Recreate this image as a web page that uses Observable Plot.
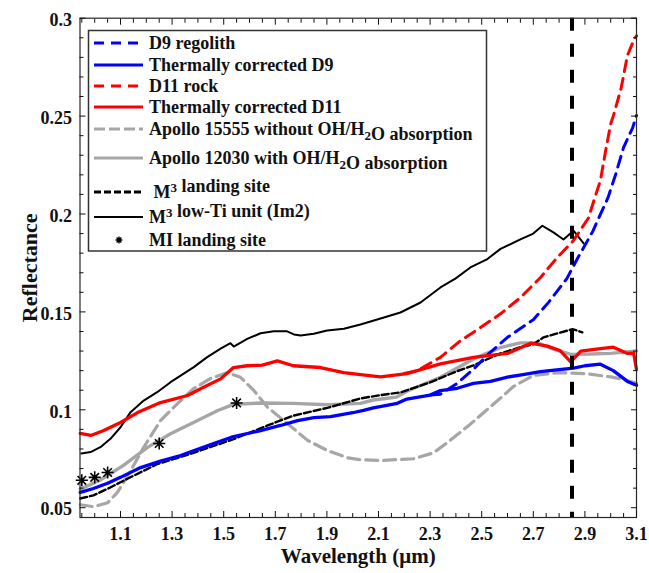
<!DOCTYPE html>
<html><head><meta charset="utf-8">
<script src="https://cdn.jsdelivr.net/npm/d3@7"></script>
<script src="https://cdn.jsdelivr.net/npm/@observablehq/plot@0.6"></script>
<style>
body{margin:0;background:#fff;}
#wrap{position:relative;width:649px;height:573px;}
#wrap svg{font-family:"Liberation Serif","Times New Roman",serif;}
#legend{position:absolute;left:0;top:0;pointer-events:none;}
</style></head><body><div id="wrap"></div>
<script>
// ---- data: [wavelength (µm), reflectance] ----
const d9Regolith = [[2.30,0.1075],[2.34,0.108],[2.40,0.113],[2.47,0.121],[2.53,0.129],[2.60,0.137],[2.70,0.146],[2.76,0.155],[2.83,0.167],[2.87,0.177],[2.93,0.191],[2.99,0.2085],[3.02,0.2206],[3.05,0.234],[3.085,0.244],[3.10,0.2503]];
const thermD9 = [[0.944,0.0578],[0.995,0.0598],[1.05,0.0625],[1.10,0.0655],[1.178,0.0705],[1.255,0.0738],[1.333,0.0766],[1.383,0.0791],[1.45,0.0822],[1.53,0.086],[1.643,0.0894],[1.72,0.092],[1.786,0.0945],[1.85,0.096],[1.914,0.0965],[2.0,0.0985],[2.042,0.0997],[2.08,0.101],[2.173,0.1033],[2.21,0.1055],[2.30,0.1075],[2.34,0.1098],[2.405,0.111],[2.468,0.1135],[2.534,0.1145],[2.60,0.1167],[2.66,0.118],[2.728,0.1195],[2.80,0.1205],[2.856,0.1213],[2.90,0.1225],[2.96,0.1233],[3.01,0.120],[3.065,0.1145],[3.10,0.1125]];
const d11Rock = [[2.20,0.1185],[2.25,0.120],[2.34,0.1268],[2.418,0.1353],[2.495,0.142],[2.573,0.149],[2.65,0.1573],[2.728,0.1676],[2.793,0.1778],[2.856,0.1865],[2.914,0.198],[2.94,0.209],[2.96,0.217],[2.98,0.232],[3.00,0.246],[3.01,0.25],[3.04,0.264],[3.065,0.281],[3.09,0.289],[3.10,0.291]];
const thermD11 = [[0.944,0.088],[0.985,0.0869],[1.035,0.0894],[1.10,0.0935],[1.166,0.0986],[1.255,0.1037],[1.36,0.1073],[1.42,0.1114],[1.488,0.1158],[1.538,0.1216],[1.591,0.1225],[1.65,0.1228],[1.708,0.125],[1.77,0.1225],[1.875,0.1216],[1.965,0.119],[2.03,0.118],[2.108,0.1168],[2.21,0.1185],[2.34,0.1235],[2.468,0.1268],[2.60,0.1288],[2.69,0.134],[2.755,0.1325],[2.803,0.1303],[2.845,0.1245],[2.884,0.130],[2.96,0.1313],[3.01,0.132],[3.065,0.1288],[3.089,0.129],[3.10,0.1205]];
const apollo15555 = [[0.944,0.0515],[0.995,0.0505],[1.05,0.0525],[1.088,0.0578],[1.139,0.0688],[1.19,0.0808],[1.255,0.0945],[1.32,0.103],[1.383,0.1108],[1.449,0.116],[1.515,0.119],[1.565,0.1166],[1.616,0.110],[1.67,0.1013],[1.747,0.093],[1.825,0.0844],[1.902,0.0792],[1.98,0.0755],[2.03,0.0745],[2.108,0.0741],[2.236,0.075],[2.313,0.078],[2.378,0.0844],[2.45,0.092],[2.507,0.0985],[2.573,0.106],[2.624,0.112],[2.70,0.1175],[2.80,0.119],[2.90,0.1185],[3.00,0.1168],[3.05,0.1155],[3.10,0.1135]];
const apollo12030 = [[0.944,0.0595],[1.02,0.064],[1.11,0.0715],[1.205,0.0808],[1.294,0.0878],[1.383,0.0935],[1.475,0.0995],[1.538,0.1028],[1.643,0.1035],[1.77,0.1033],[1.902,0.1026],[2.03,0.1033],[2.08,0.105],[2.17,0.1065],[2.21,0.1095],[2.34,0.1166],[2.468,0.126],[2.573,0.1318],[2.65,0.1342],[2.716,0.1342],[2.778,0.131],[2.845,0.1283],[2.92,0.1285],[3.00,0.1288],[3.10,0.130]];
const m3Landing = [[0.944,0.0547],[0.995,0.0563],[1.06,0.0603],[1.127,0.0648],[1.243,0.0723],[1.383,0.078],[1.538,0.085],[1.67,0.092],[1.77,0.097],[1.902,0.101],[2.03,0.1058],[2.108,0.1075],[2.185,0.1089],[2.30,0.114],[2.40,0.1195],[2.468,0.1227],[2.573,0.1288],[2.65,0.132],[2.70,0.1335],[2.74,0.137],[2.793,0.139],[2.852,0.1412],[2.89,0.1396]];
const m3LowTi = [[0.948,0.0777],[0.984,0.0784],[1.022,0.0809],[1.061,0.0852],[1.10,0.0911],[1.139,0.0988],[1.19,0.1047],[1.242,0.109],[1.294,0.1141],[1.333,0.1175],[1.384,0.1218],[1.436,0.1269],[1.488,0.1312],[1.526,0.134],[1.539,0.1323],[1.591,0.1362],[1.643,0.1391],[1.694,0.1401],[1.746,0.1401],[1.772,0.1385],[1.798,0.138],[1.849,0.1388],[1.901,0.1405],[1.966,0.1414],[2.03,0.1436],[2.108,0.1466],[2.185,0.1497],[2.263,0.1548],[2.34,0.1625],[2.398,0.167],[2.456,0.1727],[2.522,0.177],[2.573,0.1822],[2.65,0.187],[2.70,0.19],[2.735,0.194],[2.778,0.1906],[2.817,0.187],[2.856,0.1915],[2.895,0.185]];
const miLanding = [[0.95,0.064],[1.0,0.0655],[1.05,0.068],[1.25,0.0828],[1.55,0.1035]];
const markerLine = [2.85];

// ---- ticks ----
const xMajor = [1.1,1.3,1.5,1.7,1.9,2.1,2.3,2.5,2.7,2.9,3.1];
const xMinor = [0.95,1.0,1.05,1.15,1.2,1.25,1.35,1.4,1.45,1.55,1.6,1.65,1.75,1.8,1.85,1.95,2.0,2.05,2.15,2.2,2.25,2.35,2.4,2.45,2.55,2.6,2.65,2.75,2.8,2.85,2.95,3.0,3.05];
const yMajor = [0.05,0.1,0.15,0.2,0.25,0.3];
const yTickLabels = ["0.05","0.1","0.15","0.2","0.25","0.3"];
const yMinor = [0.06,0.07,0.08,0.09,0.11,0.12,0.13,0.14,0.16,0.17,0.18,0.19,0.21,0.22,0.23,0.24,0.26,0.27,0.28,0.29];

// ---- legend ----
const legendLabels = ["D9 regolith","Thermally corrected D9","D11 rock","Thermally corrected D11","Apollo 15555 without OH/H_{2}O absorption","Apollo 12030 with OH/H_{2}O absorption"," M^{3} landing site","M^{3} low-Ti unit (Im2)","MI landing site"];
const legendColors = ["#0000ff","#0000ff","#ff0000","#ff0000","#a6a6a6","#a6a6a6","#000000","#000000","#000000"];
const legendDash = ["10,7",null,"10,7",null,"11,4",null,"7,3",null,"marker"];

const star = {draw(ctx, size){ const r = Math.sqrt(size)*0.62; const d = r*0.7071;
  ctx.moveTo(-r,0); ctx.lineTo(r,0); ctx.moveTo(0,-r); ctx.lineTo(0,r);
  ctx.moveTo(-d,-d); ctx.lineTo(d,d); ctx.moveTo(-d,d); ctx.lineTo(d,-d);}};

const F = "Liberation Serif, Times New Roman, serif";
const ln = (data, stroke, w, dash) => Plot.line(data, {x: d => d[0], y: d => d[1], stroke, strokeWidth: w, strokeDasharray: dash || undefined, curve: "linear"});

const chart = Plot.plot({
  width: 649, height: 573,
  marginLeft: 79.5, marginRight: 13, marginTop: 17.7, marginBottom: 56,
  style: {fontFamily: F, fontWeight: "bold", fontSize: "18px", background: "white", color: "#111"},
  x: {domain: [0.943, 3.1]},
  y: {domain: [0.045, 0.3]},
  marks: [
    ln(apollo15555, "#a6a6a6", 3.2, "12,6"),
    ln(apollo12030, "#a6a6a6", 3.4),
    ln(m3Landing, "#000", 2.4, "7,3"),
    ln(m3LowTi, "#000", 2),
    ln(d9Regolith, "#0000ff", 3, "11,7"),
    ln(d11Rock, "#ff0000", 3, "11,7"),
    ln(thermD9, "#0000ff", 3.3),
    ln(thermD11, "#ff0000", 3.3),
    Plot.dot(miLanding, {x: d => d[0], y: d => d[1], symbol: star, r: 5.5, stroke: "#000", strokeWidth: 1.6, fill: "none"}),
    Plot.ruleX(markerLine, {stroke: "#000", strokeWidth: 4, strokeDasharray: "13,13"}),
    Plot.frame({stroke: "#262626", strokeWidth: 1.2}),
    Plot.axisX({ticks: xMajor, anchor: "bottom", tickSize: -6, text: null, label: null}),
    Plot.axisX({ticks: xMinor, anchor: "bottom", tickSize: -4, text: null, label: null}),
    Plot.axisX({ticks: xMajor, anchor: "top", tickSize: -6, text: null, label: null}),
    Plot.axisX({ticks: xMinor, anchor: "top", tickSize: -4, text: null, label: null}),
    Plot.axisY({ticks: yMajor, anchor: "left", tickSize: -6, text: null, label: null}),
    Plot.axisY({ticks: yMinor, anchor: "left", tickSize: -4, text: null, label: null}),
    Plot.axisY({ticks: yMajor, anchor: "right", tickSize: -6, text: null, label: null}),
    Plot.axisY({ticks: yMinor, anchor: "right", tickSize: -4, text: null, label: null}),
    Plot.axisX({ticks: xMajor, anchor: "bottom", tickSize: 0, tickPadding: 10, label: null, fontSize: 18, fontWeight: "bold"}),
    Plot.axisY({ticks: yMajor, anchor: "left", tickSize: 0, tickPadding: 8, dy: 2, label: null, fontSize: 18, fontWeight: "bold",
      tickFormat: v => yTickLabels[yMajor.indexOf(v)]}),
    Plot.text(["Wavelength (μm)"], {frameAnchor: "bottom", dy: 45, fontSize: 21, fontWeight: "bold", fill: "#111"}),
    Plot.text(["Reflectance"], {frameAnchor: "left", textAnchor: "middle", dx: -50, rotate: -90, fontSize: 22, fontWeight: "bold", fill: "#111"})
  ]
});
const wrap = document.getElementById("wrap");
wrap.appendChild(chart);

// legend overlay
const rowY = [43, 65, 86, 107, 129, 158, 192, 217, 240];
const svg = d3.select(wrap).append("svg").attr("id","legend").attr("width",649).attr("height",573);
svg.append("rect").attr("x",88.5).attr("y",30.5).attr("width",398).attr("height",220.5)
  .attr("fill","white").attr("stroke","#333").attr("stroke-width",1.5);
legendLabels.forEach((lab, i) => {
  const y = rowY[i];
  if (legendDash[i] === "marker") {
    const p = d3.path(); star.draw(p, 30);
    svg.append("path").attr("d", p.toString()).attr("transform", `translate(119,${y})`).attr("stroke","#000").attr("stroke-width",1.4).attr("fill","none");
  } else {
    svg.append("line").attr("x1",94).attr("x2",143).attr("y1",y).attr("y2",y)
      .attr("stroke",legendColors[i]).attr("stroke-width", i===7 ? 2.2 : 3)
      .attr("stroke-dasharray", legendDash[i]);
  }
  const t = svg.append("text").attr("x",149).attr("y",y).attr("dy","0.35em")
    .attr("font-size",18).attr("font-weight","bold").attr("fill","#111").attr("xml:space","preserve").style("white-space","pre");
  const parts = lab.split(/(_\{[^}]*\}|\^\{[^}]*\})/);
  parts.forEach(p => {
    if (!p) return;
    if (p.startsWith("_{")) {
      t.append("tspan").attr("dy","0.35em").attr("font-size",13).text(p.slice(2,-1));
      t.append("tspan").attr("dy","-0.35em").text("");
    } else if (p.startsWith("^{")) {
      t.append("tspan").attr("dy","-0.5em").attr("font-size",13).text(p.slice(2,-1));
      t.append("tspan").attr("dy","0.5em").text("");
    } else t.append("tspan").text(p);
  });
});
</script></body></html>
